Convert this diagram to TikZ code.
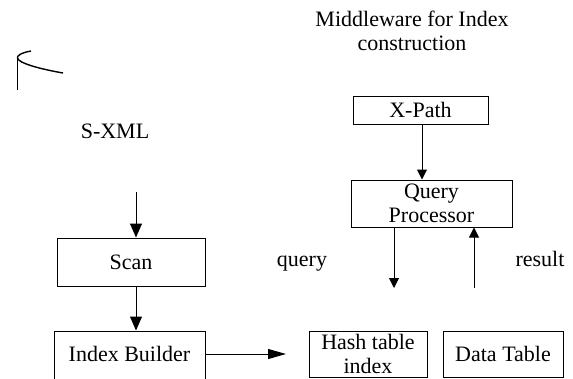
\documentclass[tikz,border=0pt]{standalone}
\usepackage{fontspec}
\setmainfont{Liberation Serif}
\usetikzlibrary{arrows.meta}
\begin{document}
\begin{tikzpicture}[x=1pt,y=-1pt,
  every node/.style={font=\fontsize{22}{24}\selectfont},
  box/.style={draw,line width=1pt,rectangle,inner sep=0pt,align=center},
  bigarr/.style={line width=1pt,-{Triangle[length=14pt,width=12pt]}},
  longarr/.style={line width=1pt,-{Triangle[length=18pt,width=10pt]}},
  smallarr/.style={line width=1pt,-{Triangle[length=10pt,width=10pt]}}]
\useasboundingbox (0,0) rectangle (573,378);

% title
\node[align=center] (title) at (412,31) {Middleware for Index\\construction};

% partial data store symbol
\draw[line width=1.4pt] (31,51) .. controls (20,53) and (17,56) .. (17.5,58)
  .. controls (18,63) and (40,69) .. (63,73);
\draw[line width=1pt] (17.5,58) -- (17.5,90);

% source side
\node[anchor=base] (sxml) at (115,138) {S-XML};
\coordinate (sxmlin) at (136,192);
\node[box,minimum width=148pt,minimum height=48pt] (scan) at (131,262) {Scan};
\node[box,minimum width=151pt,minimum height=60pt] (ibbox) at (129.5,361) {};
\node (ib) at (129.5,354) {Index Builder};

% middleware
\node[box,minimum width=135pt,minimum height=28pt] (xpath) at (420.5,110) {X-Path};
\node[box,minimum width=161pt,minimum height=47pt] (qp) at (431.5,203.5) {Query\\Processor};
\node[anchor=base] (query) at (302,266) {query};
\node[anchor=base] (result) at (540,266) {result};
\coordinate (qend) at (394,288);
\coordinate (rstart) at (474,288);

% storage
\node[box,minimum width=118pt,minimum height=46pt] (hash) at (368,354) {Hash table\\index};
\node[box,minimum width=120pt,minimum height=46pt] (data) at (503,354) {Data Table};
\coordinate (ibend) at (286,354);

% connectors
\draw[bigarr] (sxmlin) -- (sxmlin |- scan.north);
\draw[bigarr] (scan.south -| sxmlin) -- (ibbox.north -| sxmlin);
\draw[longarr] (ibbox.east |- ib.center) -- (ibend);
\draw[smallarr] (xpath.south -| 422,0) -- (qp.north -| 422,0);
\draw[smallarr] (qp.south -| qend) -- (qend);
\draw[smallarr] (rstart) -- (qp.south -| rstart);
\end{tikzpicture}
\end{document}
